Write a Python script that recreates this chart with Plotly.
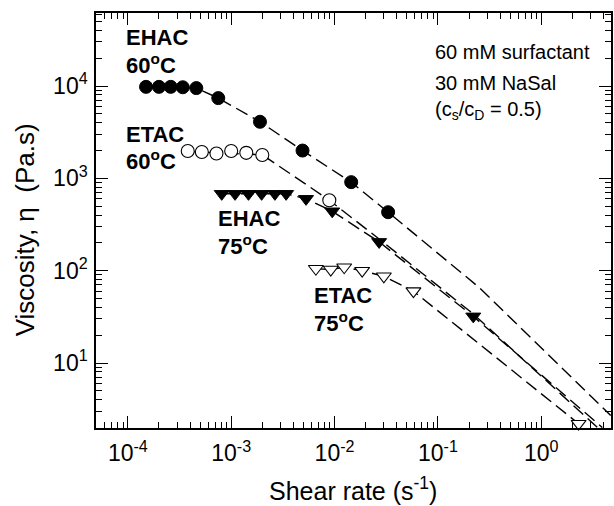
import plotly.graph_objects as go

# ---- measured data: shear rate (1/s) and steady-shear viscosity (Pa.s) ----
ehac60_rate = [1.5e-4, 2.0e-4, 2.6e-4, 3.4e-4, 4.6e-4, 7.5e-4, 1.9e-3, 4.9e-3, 1.45e-2, 3.3e-2]
ehac60_visc = [9.8e3, 9.8e3, 9.8e3, 9.7e3, 9.5e3, 7.4e3, 4.1e3, 2.0e3, 9.1e2, 4.3e2]

etac60_rate = [3.8e-4, 5.2e-4, 7.2e-4, 1.0e-3, 1.4e-3, 2.0e-3, 8.9e-3]
etac60_visc = [1.98e3, 1.93e3, 1.86e3, 1.98e3, 1.89e3, 1.79e3, 5.8e2]

ehac75_rate = [8.1e-4, 1.09e-3, 1.47e-3, 1.97e-3, 2.65e-3, 3.4e-3, 5.3e-3, 9.5e-3, 2.7e-2, 0.22]
ehac75_visc = [680, 680, 680, 680, 680, 680, 600, 440, 205, 32]

etac75_rate = [6.6e-3, 9.2e-3, 1.24e-2, 1.85e-2, 3.0e-2, 5.8e-2, 2.3]
etac75_visc = [105, 103, 109, 100, 87, 60, 2.2]

# ---- fitted curves (dashed) ----
ehac60_fit_rate = [1.5e-4, 4.6e-4, 7.5e-4, 1.9e-3, 4.9e-3, 1.45e-2, 3.3e-2, 0.25, 4.7]
ehac60_fit_visc = [9.8e3, 9.5e3, 7.4e3, 4.1e3, 2.0e3, 9.1e2, 4.3e2, 66, 2.7]

etac60_fit_rate = [3.8e-4, 2.0e-3, 8.9e-3, 2.7e-2, 0.22, 3.5]
etac60_fit_visc = [1.95e3, 1.8e3, 5.8e2, 2.2e2, 34, 2.0]

ehac75_fit_rate = [8.1e-4, 3.4e-3, 5.3e-3, 9.5e-3, 2.7e-2, 0.22, 3.9]
ehac75_fit_visc = [680, 680, 600, 440, 205, 32, 2.0]

etac75_fit_rate = [6.6e-3, 9.2e-3, 1.24e-2, 1.85e-2, 3.0e-2, 5.8e-2, 2.3]
etac75_fit_visc = [105, 103, 109, 100, 87, 60, 2.2]

# ---- axis ticks ----
x_major = [1e-4, 1e-3, 1e-2, 1e-1, 1e0]
x_major_text = ["10<sup>-4</sup>", "10<sup>-3</sup>", "10<sup>-2</sup>", "10<sup>-1</sup>", "10<sup>0</sup>"]
y_major = [1e1, 1e2, 1e3, 1e4]
y_major_text = ["10<sup>1</sup>", "10<sup>2</sup>", "10<sup>3</sup>", "10<sup>4</sup>"]

x_minor = [m * 10.0 ** e for e in range(-5, 1) for m in range(2, 10)]
y_minor = [m * 10.0 ** e for e in range(0, 5) for m in range(2, 10)]

FONT = "Liberation Sans, Arial, Helvetica, sans-serif"
W, H = 614, 506
L, R, T, B = 96, 613, 13, 428


def px(x):
    return (x - L) / (R - L)


def py(y):
    return (B - y) / (B - T)


fig = go.Figure()

dash = "13px,6px"
for fx, fy in [(ehac60_fit_rate, ehac60_fit_visc), (etac60_fit_rate, etac60_fit_visc),
               (ehac75_fit_rate, ehac75_fit_visc), (etac75_fit_rate, etac75_fit_visc)]:
    fig.add_trace(go.Scatter(x=fx, y=fy, mode="lines",
                             line=dict(color="black", width=1.4, dash=dash),
                             hoverinfo="skip", showlegend=False))

fig.add_trace(go.Scatter(x=ehac60_rate, y=ehac60_visc, mode="markers", name="EHAC 60°C",
                         marker=dict(symbol="circle", size=13, color="black",
                                     line=dict(color="black", width=1))))
fig.add_trace(go.Scatter(x=etac60_rate, y=etac60_visc, mode="markers", name="ETAC 60°C",
                         marker=dict(symbol="circle", size=13, color="white",
                                     line=dict(color="black", width=1.1))))
fig.add_trace(go.Scatter(x=ehac75_rate, y=ehac75_visc, mode="markers", name="EHAC 75°C",
                         marker=dict(symbol="triangle-down", size=13, color="black",
                                     line=dict(color="black", width=1))))
fig.add_trace(go.Scatter(x=etac75_rate, y=etac75_visc, mode="markers", name="ETAC 75°C",
                         cliponaxis=False,
                         marker=dict(symbol="triangle-down", size=13, color="white",
                                     line=dict(color="black", width=1.1))))

axis_common = dict(
    type="log", showline=True, linecolor="black", linewidth=1.5, mirror="allticks",
    ticks="inside", ticklen=12, tickwidth=1.2, tickcolor="black",
    showgrid=False, zeroline=False,
    tickfont=dict(family=FONT, size=23, color="black"),
    tickmode="array",
)

fig.update_xaxes(**axis_common, range=[-4.308, 0.675], tickvals=x_major, ticktext=x_major_text,
                 ticklabelstandoff=4,
                 minor=dict(ticks="inside", ticklen=6, tickwidth=1, tickcolor="black",
                            tickmode="array", tickvals=x_minor, showgrid=False))
fig.update_yaxes(**axis_common, range=[0.296, 4.791], tickvals=y_major, ticktext=y_major_text,
                 ticklabelstandoff=2,
                 minor=dict(ticks="inside", ticklen=6, tickwidth=1, tickcolor="black",
                            tickmode="array", tickvals=y_minor, showgrid=False))

annots = []


def label(text, x, y, size, bold=False, xanchor="left", angle=0):
    annots.append(dict(text=f"<b>{text}</b>" if bold else text, x=px(x), y=py(y),
                       xref="paper", yref="paper", xanchor=xanchor, yanchor="middle",
                       showarrow=False, textangle=angle,
                       font=dict(family=FONT, size=size, color="black")))


label("EHAC", 124, 38, 22, True)
label("60<sup>o</sup>C", 124, 64, 22, True)
label("ETAC", 124, 134, 22, True)
label("60<sup>o</sup>C", 124, 160, 22, True)
label("EHAC", 216, 218, 22, True)
label("75<sup>o</sup>C", 216, 245, 22, True)
label("ETAC", 313, 295, 22, True)
label("75<sup>o</sup>C", 313, 322, 22, True)

label("60 mM surfactant", 434, 52, 20)
label("30 mM NaSal", 434, 83, 20)
label("(c<sub>s</sub>/c<sub>D</sub> = 0.5)", 434, 111, 20)

label("Shear rate (s<sup>-1</sup>)", 354, 489, 25, xanchor="center")
label("Viscosity, η  (Pa.s)", 25, 230, 26, xanchor="center", angle=-90)

fig.update_layout(
    width=W, height=H,
    margin=dict(l=L, r=W - R, t=T, b=H - B),
    paper_bgcolor="white", plot_bgcolor="white",
    showlegend=False,
    annotations=annots,
    font=dict(family=FONT, color="black"),
)

fig.write_html("out.html")
